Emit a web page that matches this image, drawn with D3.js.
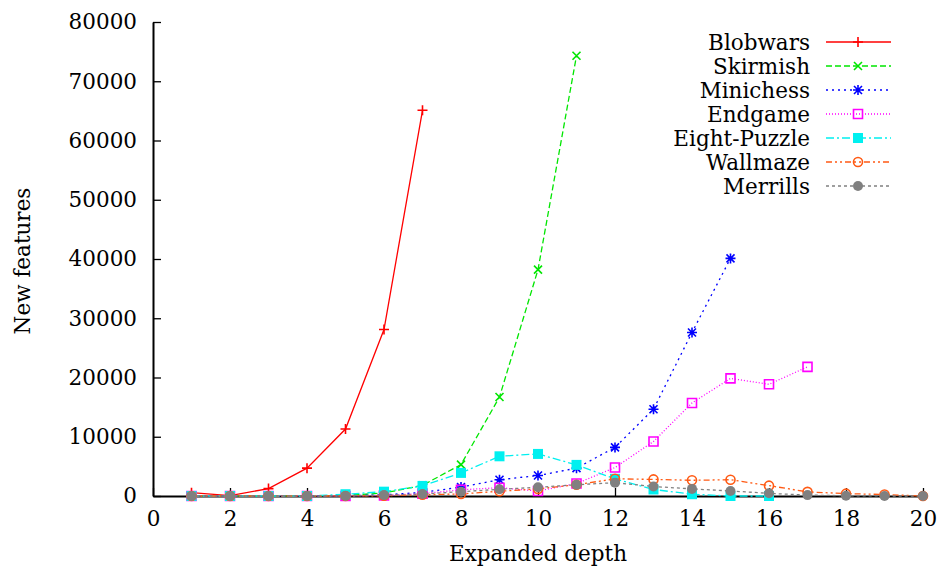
<!DOCTYPE html>
<html>
<head>
<meta charset="utf-8">
<script src="https://cdn.jsdelivr.net/npm/d3@7"></script>
<style>
  body { margin: 0; background: #fff; }
</style>
</head>
<body>
<div id="chart"></div>
<script>
// values, depth starts at 1
var blobwars = [560, 50, 1250, 4700, 11300, 28100, 65100];
var skirmish = [0, 0, 0, 0, 100, 500, 1800, 5300, 16700, 38200, 74300];
var minichess = [0, 0, 0, 0, 50, 200, 600, 1500, 2750, 3450, 4700, 8200, 14650, 27600, 40100];
var endgame = [0, 0, 0, 0, 0, 100, 400, 1050, 1400, 850, 2100, 4800, 9200, 15700, 19850, 18850, 21800];
var eightPuzzle = [0, 0, 0, 0, 300, 730, 1700, 3900, 6700, 7100, 5250, 2900, 1100, 300, 0, 0];
var wallmaze = [0, 0, 0, 0, 0, 50, 200, 350, 800, 1200, 1900, 2900, 2800, 2650, 2750, 1750, 700, 400, 250, 0];
var merrills = [0, 0, 0, 0, 0, 150, 330, 730, 1130, 1470, 1900, 2250, 1600, 1200, 850, 450, 150, 50, 0, 0];

var seriesNames = ["Blobwars", "Skirmish", "Minichess", "Endgame", "Eight-Puzzle", "Wallmaze", "Merrills"];
var seriesValues = [blobwars, skirmish, minichess, endgame, eightPuzzle, wallmaze, merrills];
var xTicks = [0, 2, 4, 6, 8, 10, 12, 14, 16, 18, 20];
var yTicks = [0, 10000, 20000, 30000, 40000, 50000, 60000, 70000, 80000];

var styles = [
  {color: "#ff0000", dash: null, marker: "plus"},
  {color: "#00e600", dash: "6,3", marker: "cross"},
  {color: "#0000ff", dash: "2,4", marker: "star"},
  {color: "#ff00ff", dash: "1,2", marker: "box"},
  {color: "#00f0f0", dash: "8,3,2,3", marker: "fbox"},
  {color: "#ff5a14", dash: "6,3,2,3,2,3", marker: "circle"},
  {color: "#808080", dash: "3,3", marker: "fcircle"}
];

var font = "font-family:'DejaVu Serif';font-size:21.5px";

var width = 941, height = 572;
var margin = {top: 22, right: 18, bottom: 76, left: 153};

var svg = d3.select("#chart").append("svg")
    .attr("width", width)
    .attr("height", height);

var x = d3.scaleLinear().domain([0, 20]).range([margin.left, width - margin.right]);
var y = d3.scaleLinear().domain([0, 80000]).range([height - margin.bottom, margin.top]);

var gx = svg.append("g")
    .attr("transform", "translate(0," + y(0) + ")")
    .call(d3.axisBottom(x).tickValues(xTicks).tickSizeInner(-8).tickSizeOuter(0).tickPadding(15));
var gy = svg.append("g")
    .attr("transform", "translate(" + x(0) + ",0)")
    .call(d3.axisLeft(y).tickValues(yTicks).tickFormat(d3.format("d")).tickSizeInner(-8).tickSizeOuter(0).tickPadding(16));

[gx, gy].forEach(function(g) {
  g.attr("font-family", null).attr("font-size", null);
  g.select(".domain").attr("stroke", "#000").attr("stroke-width", 2);
  g.selectAll(".tick line").attr("stroke", "#000").attr("stroke-width", 1.3);
  g.selectAll(".tick text").attr("style", font).attr("fill", "#000");
});

svg.append("text")
  .attr("x", (x(0) + x(20)) / 2)
  .attr("y", 561)
  .attr("text-anchor", "middle")
  .attr("style", font)
  .text("Expanded depth");

svg.append("text")
  .attr("transform", "translate(30," + (y(40000) + 2) + ") rotate(-90)")
  .attr("text-anchor", "middle")
  .attr("style", font)
  .text("New features");

function markerPath(type, cx, cy) {
  var s = 5;
  switch (type) {
    case "plus": return "M" + (cx - s) + "," + cy + "H" + (cx + s) + "M" + cx + "," + (cy - s) + "V" + (cy + s);
    case "cross": return "M" + (cx - 4) + "," + (cy - 4) + "L" + (cx + 4) + "," + (cy + 4) + "M" + (cx - 4) + "," + (cy + 4) + "L" + (cx + 4) + "," + (cy - 4);
    case "star": return "M" + (cx - s) + "," + cy + "H" + (cx + s) + "M" + cx + "," + (cy - s) + "V" + (cy + s) +
      "M" + (cx - 4) + "," + (cy - 4) + "L" + (cx + 4) + "," + (cy + 4) + "M" + (cx - 4) + "," + (cy + 4) + "L" + (cx + 4) + "," + (cy - 4);
    case "box": return "M" + (cx - 4.5) + "," + (cy - 4.5) + "h9v9h-9Z";
    case "fbox": return "M" + (cx - 5) + "," + (cy - 5) + "h10v10h-10Z";
  }
}

function drawMarker(g, type, color, cx, cy) {
  if (type === "circle") {
    g.append("circle").attr("cx", cx).attr("cy", cy).attr("r", 4.5)
      .attr("fill", "none").attr("stroke", color).attr("stroke-width", 1.6);
  } else if (type === "fcircle") {
    g.append("circle").attr("cx", cx).attr("cy", cy).attr("r", 5).attr("fill", color);
  } else if (type === "fbox") {
    g.append("path").attr("d", markerPath(type, cx, cy)).attr("fill", color);
  } else {
    g.append("path").attr("d", markerPath(type, cx, cy))
      .attr("fill", "none").attr("stroke", color).attr("stroke-width", 1.6);
  }
}

var line = d3.line()
    .x(function(d, i) { return x(i + 1); })
    .y(function(d) { return y(d); });

var plot = svg.append("g");
seriesValues.forEach(function(vals, k) {
  var st = styles[k];
  var g = plot.append("g");
  g.append("path")
    .attr("d", line(vals))
    .attr("fill", "none")
    .attr("stroke", st.color)
    .attr("stroke-width", 1.3)
    .attr("stroke-dasharray", st.dash);
  vals.forEach(function(v, i) {
    drawMarker(g, st.marker, st.color, x(i + 1), y(v));
  });
});

// legend
var legend = svg.append("g");
seriesNames.forEach(function(name, k) {
  var st = styles[k];
  var ly = 42 + k * 24;
  legend.append("text")
    .attr("x", 810)
    .attr("y", ly)
    .attr("dy", "0.36em")
    .attr("text-anchor", "end")
    .attr("style", font)
    .text(name);
  legend.append("line")
    .attr("x1", 826).attr("x2", 891)
    .attr("y1", ly).attr("y2", ly)
    .attr("stroke", st.color)
    .attr("stroke-width", 1.3)
    .attr("stroke-dasharray", st.dash);
  drawMarker(legend, st.marker, st.color, 858, ly);
});
</script>
</body>
</html>
